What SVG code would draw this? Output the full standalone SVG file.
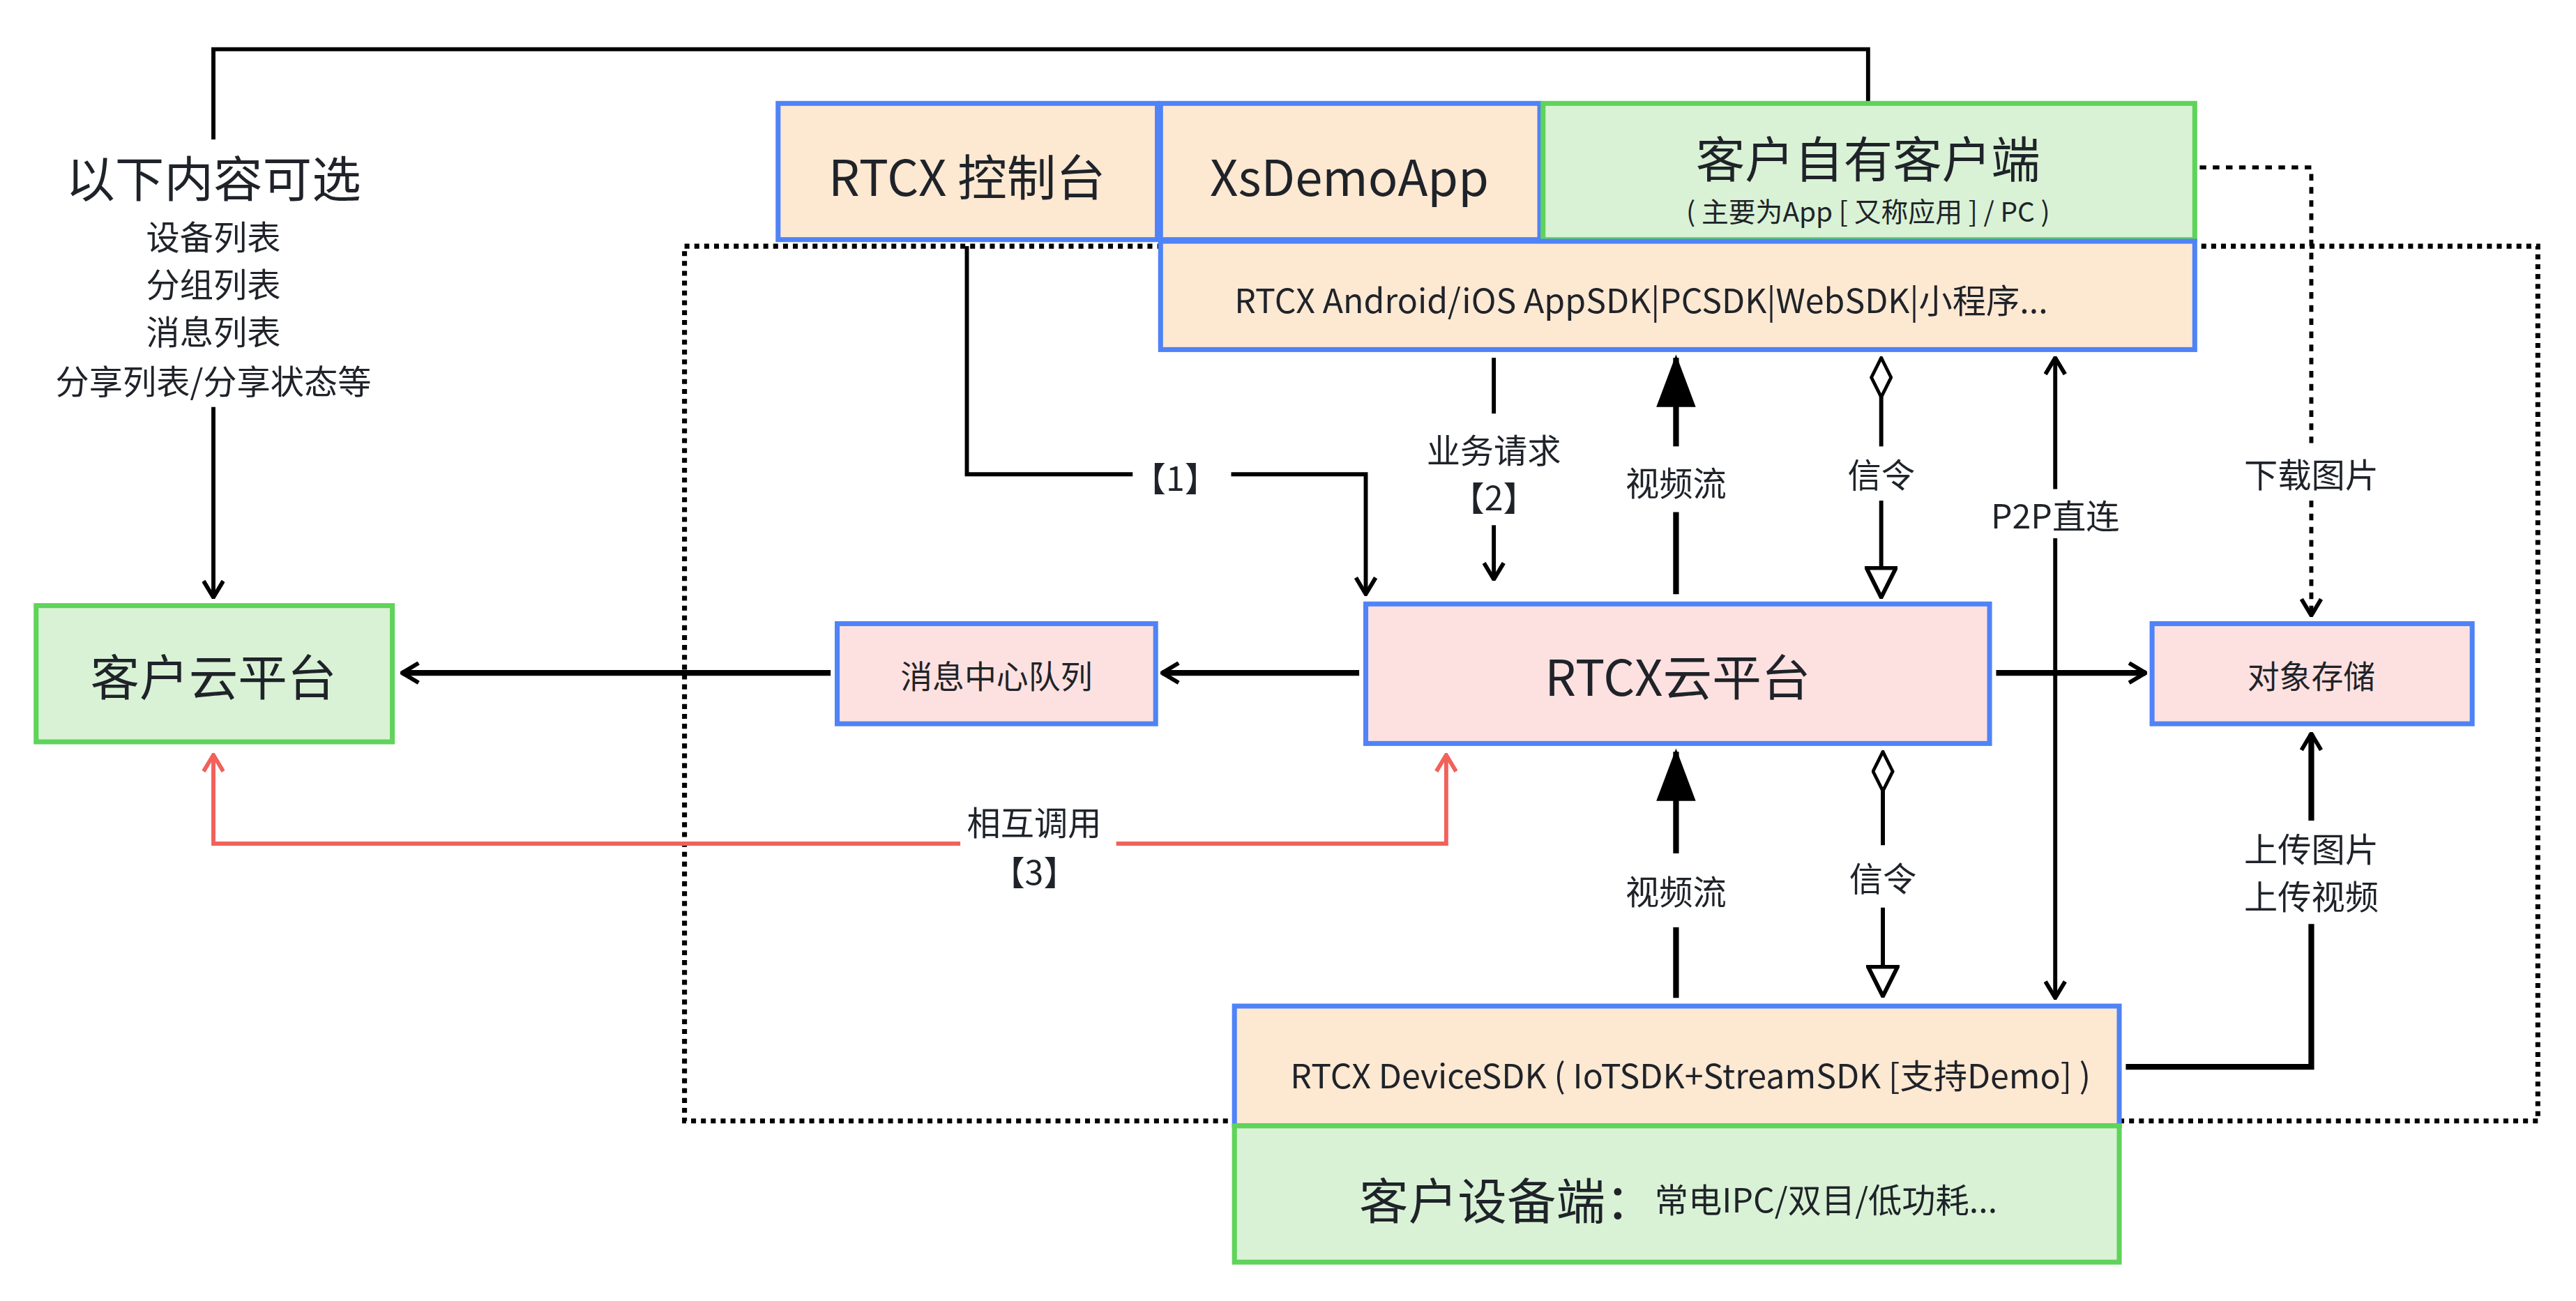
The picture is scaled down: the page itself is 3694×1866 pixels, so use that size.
<svg xmlns="http://www.w3.org/2000/svg" width="3694" height="1866" viewBox="0 0 3694 1866">
<style>
text{font-family:"Noto Sans CJK SC","Noto Sans",sans-serif;fill:#1f2329;text-anchor:middle;dominant-baseline:central}
.or{fill:#fde8d2;stroke:#4f83f7;stroke-width:3}
.pk{fill:#fde1e0;stroke:#4f83f7;stroke-width:3}
.gr{fill:#d9f2d5;stroke:#5fd35a;stroke-width:3}
.ln{fill:none;stroke:#000;stroke-width:2.5}
.th{fill:none;stroke:#000;stroke-width:3.5}
.rd{fill:none;stroke:#f0625a;stroke-width:2.5}
.big{font-size:30px}.md{font-size:20.5px}.sm{font-size:19.5px}
</style>
<defs>
<marker id="op" viewBox="0 0 12 14" refX="11" refY="7" markerWidth="12" markerHeight="14" markerUnits="userSpaceOnUse" orient="auto-start-reverse"><path d="M1 1L11 7L1 13" fill="none" stroke="#000" stroke-width="2.5"/></marker>
<marker id="opr" viewBox="0 0 12 14" refX="11" refY="7" markerWidth="12" markerHeight="14" markerUnits="userSpaceOnUse" orient="auto-start-reverse"><path d="M1 1L11 7L1 13" fill="none" stroke="#f0625a" stroke-width="2.5"/></marker>
<marker id="fl" viewBox="0 0 32 24" refX="30" refY="12" markerWidth="32" markerHeight="24" markerUnits="userSpaceOnUse" orient="auto"><path d="M0 0L32 12L0 24Z" fill="#000"/></marker>
<marker id="dm" viewBox="0 0 26 14" refX="1" refY="7" markerWidth="26" markerHeight="14" markerUnits="userSpaceOnUse" orient="auto"><path d="M1 7L13 1L25 7L13 13Z" fill="#fff" stroke="#000" stroke-width="2"/></marker>
<marker id="tr" viewBox="0 0 20 20" refX="19" refY="10" markerWidth="20" markerHeight="20" markerUnits="userSpaceOnUse" orient="auto"><path d="M1 1L19 10L1 19Z" fill="#fff" stroke="#000" stroke-width="2.5"/></marker>
</defs>
<rect width="3694" height="1866" fill="#fff"/>
<g transform="scale(2.354)">
<rect x="417" y="150" width="1129" height="533" fill="none" stroke="#000" stroke-width="3" stroke-dasharray="3 3"/>
<g id="connectors">
<path class="ln" d="M130 85V30H1138V62"/>
<path class="ln" d="M130 248V364" marker-end="url(#op)"/>
<path class="ln" d="M589 150V289H690M750 289H832V362" marker-end="url(#op)"/>
<path class="ln" d="M910 218V252"/>
<path class="ln" d="M910 320V353" marker-end="url(#op)"/>
<path class="th" d="M1021 312V362"/>
<path class="th" d="M1021 272V218" marker-end="url(#fl)"/>
<path class="ln" d="M1146 218V272" marker-start="url(#dm)"/>
<path class="ln" d="M1146 305V364" marker-end="url(#tr)"/>
<path class="ln" d="M1252 298V218" marker-end="url(#op)"/>
<path class="ln" d="M1252 328V608" marker-end="url(#op)"/>
<path class="ln" d="M1340 102H1408V272" stroke-dasharray="4 4"/>
<path class="ln" d="M1408 305V375" stroke-dasharray="4 4" marker-end="url(#op)"/>
<path class="th" d="M828 410H708" marker-end="url(#op)"/>
<path class="th" d="M506 410H245" marker-end="url(#op)"/>
<path class="th" d="M1216 410H1307" marker-end="url(#op)"/>
<path class="th" d="M1295 650H1408V563"/>
<path class="th" d="M1408 500V447" marker-end="url(#op)"/>
<path class="rd" d="M585 514H130V460" marker-end="url(#opr)"/>
<path class="rd" d="M680 514H881V460" marker-end="url(#opr)"/>
<path class="th" d="M1021 608V565"/>
<path class="th" d="M1021 520V458" marker-end="url(#fl)"/>
<path class="ln" d="M1147 458V515" marker-start="url(#dm)"/>
<path class="ln" d="M1147 553V607" marker-end="url(#tr)"/>
</g>
<g id="labels">
<text x="130" y="107" class="big">以下内容可选</text>
<text x="130" y="143" class="md">设备列表</text>
<text x="130" y="172" class="md">分组列表</text>
<text x="130" y="201" class="md">消息列表</text>
<text x="130" y="231" class="md">分享列表/分享状态等</text>
<text x="716" y="290" class="md">【1】</text>
<text x="910" y="273" class="md">业务请求</text>
<text x="910" y="302" class="md">【2】</text>
<text x="1021" y="293" class="md">视频流</text>
<text x="1146" y="288" class="md">信令</text>
<text x="1252" y="313" class="md">P2P直连</text>
<text x="1408" y="288" class="md">下载图片</text>
<text x="630" y="500" class="md">相互调用</text>
<text x="630" y="530" class="md">【3】</text>
<text x="1021" y="542" class="md">视频流</text>
<text x="1147" y="534" class="md">信令</text>
<text x="1408" y="516" class="md">上传图片</text>
<text x="1408" y="545" class="md">上传视频</text>
</g>
<g id="n-cloud"><rect class="gr" x="22" y="369" width="217" height="83"/><text x="130" y="411" class="big">客户云平台</text></g>
<g id="n-console"><rect class="or" x="474" y="63" width="231" height="83"/><text x="589" y="106" class="big">RTCX 控制台</text></g>
<g id="n-demo"><rect class="or" x="707" y="63" width="231" height="83"/><text x="822" y="106" class="big">XsDemoApp</text></g>
<g id="n-client"><rect class="gr" x="940" y="63" width="397" height="83"/><text x="1138" y="95" class="big">客户自有客户端</text><text x="1138" y="128" font-size="16.5">( 主要为App [ 又称应用 ] / PC )</text></g>
<g id="n-appsdk"><rect class="or" x="707" y="147" width="630" height="66"/><text x="752" y="182" class="md" style="text-anchor:start">RTCX Android/iOS AppSDK|PCSDK|WebSDK|小程序...</text></g>
<g id="n-rtcx"><rect class="pk" x="832" y="368" width="380" height="85"/><text x="1022" y="411" class="big">RTCX云平台</text></g>
<g id="n-mq"><rect class="pk" x="510" y="380" width="194" height="61"/><text x="607" y="411" class="sm">消息中心队列</text></g>
<g id="n-oss"><rect class="pk" x="1311" y="380" width="195" height="61"/><text x="1408" y="411" class="sm">对象存储</text></g>
<g id="n-devsdk"><rect class="or" x="752" y="613" width="539" height="73"/><text x="786" y="654" class="md" style="text-anchor:start">RTCX DeviceSDK ( IoTSDK+StreamSDK [支持Demo] )</text></g>
<g id="n-device"><rect class="gr" x="752" y="686" width="539" height="83"/><text x="828" y="730" style="text-anchor:start"><tspan font-size="30">客户设备端：</tspan><tspan font-size="20.5">常电IPC/双目/低功耗...</tspan></text></g>
</g>
</svg>
